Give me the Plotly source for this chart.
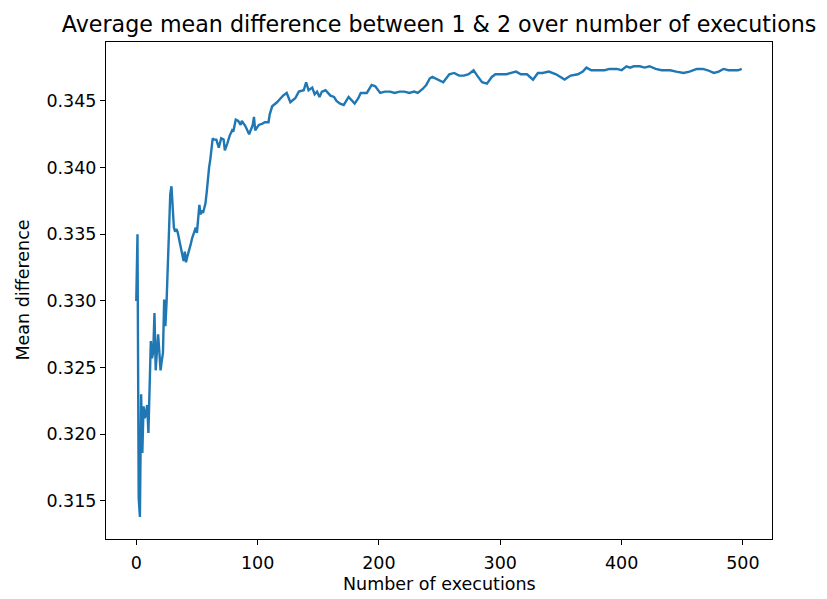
import plotly.graph_objects as go

executions = [0, 1, 2, 3, 4, 5, 6, 7, 8, 9, 10, 11, 12, 13, 14, 15, 16, 17, 18, 19,
              20, 21, 22, 23, 24, 25, 26, 27, 28, 29, 30, 31, 32, 33, 34, 35, 36, 37, 38, 39,
              40, 41, 42, 43, 44, 45, 46, 47, 48, 49, 50, 51, 52, 53, 54, 55, 56, 57, 58, 59,
              60, 61, 62, 63, 64, 66, 68, 70, 72, 73, 75, 77, 79, 80, 82, 84, 86, 87, 90, 93,
              96, 97, 98, 101, 104, 106, 109, 110, 112, 116, 119, 121, 124, 127, 131, 134, 138, 140, 142, 145,
              147, 149, 151, 153, 156, 160, 163, 165, 168, 171, 175, 178, 180, 183, 185, 188, 190, 194, 197, 201,
              205, 209, 213, 217, 221, 225, 229, 232, 236, 239, 242, 244, 248, 253, 258, 262, 266, 270, 274, 278,
              281, 285, 289, 293, 296, 300, 305, 309, 313, 317, 322, 327, 331, 335, 340, 346, 350, 353, 358, 364,
              368, 371, 375, 380, 386, 390, 396, 400, 404, 407, 410, 415, 419, 423, 428, 433, 440, 445, 451, 456,
              462, 467, 471, 476, 480, 484, 488, 492, 496, 499]

mean_difference = [0.3300, 0.3350, 0.3152, 0.3138, 0.3230, 0.3186, 0.3221, 0.3212, 0.3216, 0.3222,
                   0.3201, 0.3240, 0.3270, 0.3257, 0.3262, 0.3291, 0.3248, 0.3262, 0.3275, 0.3262,
                   0.3248, 0.3255, 0.3261, 0.3301, 0.3281, 0.3300, 0.3333, 0.3360, 0.3380, 0.3386,
                   0.3370, 0.3355, 0.3352, 0.3354, 0.3352, 0.3348, 0.3344, 0.3340, 0.3335, 0.3330,
                   0.3337, 0.3329, 0.3333, 0.3336, 0.3340, 0.3343, 0.3347, 0.3350, 0.3352, 0.3355,
                   0.3351, 0.3362, 0.3372, 0.3365, 0.3368, 0.3366, 0.3369, 0.3373, 0.3381, 0.3392,
                   0.3400, 0.3406, 0.3414, 0.3422, 0.3421, 0.3421, 0.3415, 0.3422, 0.3421, 0.3413,
                   0.3418, 0.3424, 0.3428, 0.3427, 0.3436, 0.3435, 0.3432, 0.3435, 0.3431, 0.3425,
                   0.3432, 0.3438, 0.3428, 0.3432, 0.3433, 0.3434, 0.3434, 0.3440, 0.3446, 0.3449,
                   0.3452, 0.3454, 0.3456, 0.3449, 0.3452, 0.3457, 0.3458, 0.3464, 0.3458, 0.3460,
                   0.3455, 0.3457, 0.3453, 0.3457, 0.3458, 0.3454, 0.3453, 0.3450, 0.3448, 0.3447,
                   0.3453, 0.3450, 0.3448, 0.3452, 0.3456, 0.3456, 0.3456, 0.3462, 0.3461, 0.3456,
                   0.3457, 0.3457, 0.3456, 0.3457, 0.3457, 0.3456, 0.3457, 0.3456, 0.3459, 0.3462,
                   0.3467, 0.3468, 0.3466, 0.3464, 0.3470, 0.3471, 0.3469, 0.3469, 0.3470, 0.3473,
                   0.3469, 0.3464, 0.3463, 0.3468, 0.3470, 0.3470, 0.3470, 0.3471, 0.3472, 0.3470,
                   0.3470, 0.3466, 0.3471, 0.3471, 0.3472, 0.3470, 0.3468, 0.3466, 0.3469, 0.3470,
                   0.3472, 0.3475, 0.3473, 0.3473, 0.3473, 0.3474, 0.3474, 0.3473, 0.3476, 0.3475,
                   0.3476, 0.3476, 0.3475, 0.3476, 0.3474, 0.3473, 0.3473, 0.3472, 0.3471, 0.3472,
                   0.3474, 0.3474, 0.3473, 0.3471, 0.3472, 0.3474, 0.3473, 0.3473, 0.3473, 0.3474]

x_ticks = [0, 100, 200, 300, 400, 500]
y_ticks = [0.315, 0.320, 0.325, 0.330, 0.335, 0.340, 0.345]

title_text = "Average mean difference between 1 & 2 over number of executions"
x_label = "Number of executions"
y_label = "Mean difference"

FONT = "DejaVu Sans, sans-serif"
TICK_SIZE = 17.5
TITLE_SIZE = 22.2

W, H = 827, 599
L, R, T, B = 106, 55, 42, 60
plot_w, plot_h = W - L - R, H - T - B

fig = go.Figure()
fig.add_trace(go.Scatter(
    x=executions, y=mean_difference, mode="lines",
    line=dict(color="#1f77b4", width=2.4),
    showlegend=False, hoverinfo="skip",
))

axis_common = dict(
    showline=True, linecolor="black", linewidth=1, mirror=True,
    showgrid=False, zeroline=False, automargin=False,
    ticks="outside", ticklen=5, tickwidth=1, tickcolor="black",
    tickfont=dict(family=FONT, size=TICK_SIZE, color="black"),
)

fig.update_layout(
    width=W, height=H,
    margin=dict(l=L, r=R, t=T, b=B),
    paper_bgcolor="white", plot_bgcolor="white",
    font=dict(family=FONT, size=TICK_SIZE, color="black"),
    title=dict(text=title_text, x=0.531, xanchor="center", xref="container",
               y=1 - 24 / H, yanchor="middle", yref="container",
               font=dict(family=FONT, size=TITLE_SIZE, color="black")),
    xaxis=dict(axis_common, range=[-24.95, 523.95], tickvals=x_ticks,
               ticktext=[str(v) for v in x_ticks], ticklabelstandoff=3),
    yaxis=dict(axis_common, range=[0.31215, 0.34942], tickvals=y_ticks,
               ticktext=[f"{v:.3f}" for v in y_ticks]),
    annotations=[
        dict(text=x_label, xref="paper", yref="paper", x=0.5,
             y=-(584 - (H - B)) / plot_h, xanchor="center", yanchor="middle",
             showarrow=False, font=dict(family=FONT, size=TICK_SIZE, color="black")),
        dict(text=y_label, xref="paper", yref="paper", x=-(L - 22) / plot_w,
             y=0.5, xanchor="center", yanchor="middle", textangle=-90,
             showarrow=False, font=dict(family=FONT, size=TICK_SIZE, color="black")),
    ],
)

fig.write_html("out.html")
